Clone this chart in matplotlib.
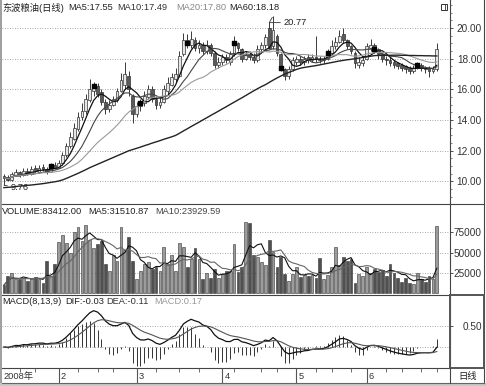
import numpy as np
import pandas as pd
import matplotlib
matplotlib.use('Agg')
import matplotlib.pyplot as plt
from matplotlib.patches import Rectangle
from matplotlib.lines import Line2D

plt.rcParams['font.family'] = ['Liberation Sans', 'Noto Sans CJK SC', 'DejaVu Sans']

# ---------------- data ----------------
close = [
    10.25, 10.10, 10.50, 10.60, 10.40, 10.70, 10.50, 10.80, 10.70, 10.90,
    10.80, 10.60, 11.00, 10.90, 11.20, 11.70, 12.30, 12.90, 13.50, 14.20,
    14.60, 15.40, 16.00, 16.20, 15.70, 15.20, 14.70, 15.00, 15.40, 15.90,
    16.60, 17.00, 16.00, 14.40, 14.90, 15.10, 15.60, 16.00, 15.40, 15.00,
    15.20, 16.00, 16.40, 16.80, 17.00, 18.20, 19.20, 19.00, 19.30, 18.70,
    18.90, 18.50, 18.90, 18.40, 17.60, 17.80, 18.10, 17.90, 18.30, 19.00,
    18.70, 18.00, 18.30, 18.10, 17.90, 18.60, 18.90, 19.40, 18.70, 19.90,
    18.40, 17.40, 16.90, 17.30, 17.90, 18.00, 17.80, 18.00, 17.90, 18.10,
    18.00, 17.90, 18.00, 18.40, 18.80, 19.10, 19.50, 19.20, 18.80, 18.50,
    17.70, 17.80, 17.90, 18.80, 18.90, 18.60, 18.30, 18.00, 17.90, 17.70,
    17.60, 17.50, 17.40, 17.30, 17.20, 17.40, 17.60, 17.40, 17.30, 17.20,
    17.30, 18.65]
open_ = [
    10.35, 10.30, 10.10, 10.45, 10.60, 10.40, 10.70, 10.50, 10.85, 10.65,
    10.95, 10.80, 10.65, 11.05, 10.90, 11.20, 11.70, 12.30, 12.80, 13.40,
    14.20, 14.60, 15.30, 15.90, 16.20, 15.80, 15.20, 14.70, 15.00, 15.30,
    15.90, 16.30, 16.90, 15.60, 14.40, 14.90, 15.10, 15.50, 16.00, 15.40,
    15.00, 15.20, 15.90, 16.30, 16.70, 16.90, 18.30, 19.20, 18.90, 19.20,
    18.70, 18.90, 18.50, 18.90, 18.40, 17.60, 17.80, 18.10, 17.80, 18.30,
    19.00, 18.60, 18.00, 18.30, 18.10, 17.90, 18.60, 18.90, 20.00, 18.80,
    19.50, 18.30, 17.30, 16.90, 17.30, 17.80, 18.00, 17.80, 18.10, 17.90,
    18.10, 18.00, 17.90, 18.00, 18.40, 18.80, 19.10, 19.60, 19.20, 18.80,
    18.40, 17.60, 17.70, 18.00, 18.70, 18.90, 18.60, 18.30, 18.00, 17.90,
    17.80, 17.70, 17.60, 17.50, 17.40, 17.20, 17.40, 17.60, 17.40, 17.40,
    17.20, 17.30]
high = [
    10.50, 10.40, 10.65, 10.80, 10.70, 10.85, 10.90, 11.00, 11.05, 11.10,
    11.15, 10.95, 11.20, 11.25, 11.40, 11.90, 12.50, 13.20, 13.80, 14.50,
    15.10, 15.70, 16.70, 16.50, 16.40, 16.00, 15.40, 15.30, 15.60, 16.10,
    17.10, 17.80, 17.20, 15.70, 15.20, 15.40, 15.90, 16.30, 16.20, 15.60,
    15.50, 16.30, 16.80, 17.10, 17.40, 18.50, 19.70, 19.60, 19.80, 19.40,
    19.20, 19.10, 19.20, 19.00, 18.50, 18.10, 18.30, 18.30, 18.50, 19.50,
    19.10, 18.70, 18.50, 18.50, 18.40, 18.90, 19.10, 19.60, 20.40, 20.77,
    19.60, 18.40, 17.40, 17.50, 18.10, 18.20, 18.20, 18.20, 18.30, 18.30,
    19.50, 18.20, 18.20, 18.60, 19.20, 19.40, 19.90, 20.00, 19.30, 18.90,
    18.50, 18.10, 18.20, 19.00, 19.30, 19.00, 18.70, 18.40, 18.20, 18.10,
    17.90, 17.80, 17.70, 17.60, 17.50, 17.60, 17.80, 17.70, 17.50, 17.50,
    17.50, 19.00]
low = [
    9.76, 10.00, 10.00, 10.35, 10.30, 10.35, 10.40, 10.45, 10.60, 10.55,
    10.70, 10.50, 10.60, 10.80, 10.85, 11.10, 11.60, 12.20, 12.70, 13.30,
    14.00, 14.40, 15.20, 15.60, 15.50, 15.00, 14.40, 14.50, 14.90, 15.20,
    15.80, 16.00, 15.60, 13.80, 14.20, 14.60, 14.90, 15.40, 15.20, 14.70,
    14.80, 15.10, 15.70, 16.20, 16.50, 16.80, 18.20, 18.70, 18.70, 18.50,
    18.40, 18.30, 18.30, 18.20, 17.40, 17.40, 17.60, 17.70, 17.60, 18.20,
    18.50, 17.80, 17.90, 17.90, 17.70, 17.80, 18.40, 18.70, 18.60, 18.60,
    18.20, 17.20, 16.60, 16.70, 17.20, 17.60, 17.60, 17.60, 17.70, 17.80,
    17.80, 17.70, 17.70, 17.90, 18.30, 18.60, 19.00, 19.00, 18.60, 18.30,
    17.40, 17.40, 17.50, 17.90, 18.50, 18.40, 18.00, 17.80, 17.60, 17.50,
    17.40, 17.30, 17.20, 17.10, 17.00, 17.10, 17.30, 17.20, 17.10, 16.80,
    17.10, 17.20]
volume = [
    9600, 21000, 25000, 17000, 17000, 19000, 15000, 19000, 20000, 17500,
    12600, 39000, 21000, 36000, 63000, 71500, 62000, 49000, 76000, 81000,
    64000, 84000, 66000, 56000, 60000, 64000, 36000, 27500, 47000, 40000,
    82000, 53000, 69000, 39000, 17700, 27500, 36000, 38000, 30000, 32000,
    27500, 57000, 36000, 47000, 27500, 62000, 57000, 32000, 41700, 56000,
    42000, 17000, 25000, 19000, 30000, 19000, 23000,
    27500, 27500, 61000, 26000, 32000, 88000, 86000, 47000, 45000, 38000,
    35000, 66000, 51000, 32000, 45000, 23000, 14700, 23000, 32000, 20000,
    22000, 21000, 22000, 19000, 43000, 17700, 22000, 32000, 56600, 35000,
    45000, 40000, 42000, 12000, 23000, 21000, 32000, 25000, 30000, 26000,
    28000, 21000, 36000, 25000, 19000, 14000, 19000, 12000, 11000, 25000,
    17000, 14000, 21000, 17700, 83412]
ma60 = [
    9.60, 9.62, 9.64, 9.67, 9.70, 9.72, 9.75, 9.77, 9.80, 9.83, 9.86, 9.90, 9.94, 9.98, 10.03,
    10.10, 10.20, 10.31, 10.42, 10.53, 10.65, 10.77, 10.90,
    11.01, 11.12, 11.23, 11.34, 11.45, 11.56, 11.67, 11.78, 11.89, 12.00,
    12.08, 12.16, 12.24, 12.33, 12.41, 12.50, 12.58, 12.66, 12.75, 12.83, 12.91, 13.00,
    13.14, 13.29, 13.43, 13.58, 13.72, 13.86, 14.01, 14.15, 14.30, 14.44, 14.58, 14.73,
    14.87, 15.02, 15.16, 15.31, 15.45,
    15.60, 15.75, 15.90, 16.04, 16.18, 16.30,
    16.45, 16.60, 16.74, 16.87, 17.00,
    17.10, 17.20, 17.30, 17.38,
    17.43, 17.47, 17.51, 17.55, 17.60,
    17.65, 17.70, 17.75, 17.80, 17.85,
    17.89, 17.93, 17.96, 18.00,
    18.04, 18.08, 18.12, 18.16, 18.20,
    18.21, 18.22, 18.22, 18.22, 18.23, 18.23, 18.22, 18.22, 18.21, 18.21, 18.20, 18.20,
    18.19, 18.19, 18.18, 18.18]
signal_idx = [12, 23, 35, 47, 59, 71, 83, 95, 106]
month_start = [14, 34, 56, 75, 93]
month_labels = ['2', '3', '4', '5', '6']
year_label = '2008年'
week_ticks = [4, 8, 19, 24, 28, 39, 45, 50, 59, 66, 70, 80, 84, 89, 98, 102, 107, 111]
price_ticks = [10, 12, 14, 16, 18, 20]
vol_ticks = [25000, 50000, 75000]
macd_ticks = [0.5]

title_parts = [('东波粮油(日线)', 2, '#222'), ('MA5:17.55', 68, '#222'),
               ('MA10:17.49', 117, '#333'), ('MA20:17.80', 176, '#888'),
               ('MA60:18.18', 229, '#222')]
vol_parts = [('VOLUME:83412.00', 2, '#222'), ('MA5:31510.87', 88, '#222'),
             ('MA10:23929.59', 155, '#444')]
macd_parts = [('MACD(8,13,9)', 2, '#222'), ('DIF:-0.03', 65, '#222'),
              ('DEA:-0.11', 106, '#333'), ('MACD:0.17', 154, '#999')]

# ---------------- figure ----------------
W, H = 486, 386
fig = plt.figure(figsize=(W / 100, H / 100), dpi=100)
fig.patch.set_facecolor('white')


def axrect(x0, y0, x1, y1):
    return [x0 / W, 1 - y1 / H, (x1 - x0) / W, (y1 - y0) / H]


def px(x, y):
    return x / W, 1 - y / H


ax_p = fig.add_axes(axrect(2, 0, 450, 204))
ax_v = fig.add_axes(axrect(2, 204, 450, 295))
ax_m = fig.add_axes(axrect(2, 295, 450, 368))
ax_d = fig.add_axes(axrect(2, 368, 450, 383))

n = len(close)
x = np.arange(n)
c = np.array(close); o = np.array(open_); h = np.array(high); l = np.array(low)
up = c >= o
s = pd.Series(c)
XL, XR = -0.49, 114.38

grid_kw = dict(color='#8a8a8a', linestyle=(0, (1, 2)), linewidth=0.6)
FS = 6.7
TFS = 7.2


def style_axis(ax, ticks, fmt, labelpad_px=32):
    ax.set_xlim(XL, XR)
    ax.set_xticks([])
    ax.yaxis.tick_right()
    ax.set_yticks(ticks)
    ax.set_yticklabels([fmt(t) for t in ticks])
    ax.tick_params(axis='y', which='major', length=2.2, width=0.6, colors='#333',
                   labelsize=TFS, pad=labelpad_px / 1.389 - 2.2, direction='out')
    for t in ax.get_yticklabels():
        t.set_ha('right')
    for sp in ['top', 'left']:
        ax.spines[sp].set_visible(False)
    for sp in ['right', 'bottom']:
        ax.spines[sp].set_color('#444')
        ax.spines[sp].set_linewidth(0.8)
    ax.grid(axis='y', **grid_kw)
    ax.set_axisbelow(True)
    ax.patch.set_alpha(0)


# ---- price panel ----
ax_p.vlines(x, l, h, color='#3a3a3a', lw=0.7, zorder=2)
for i in range(n):
    b = min(o[i], c[i])
    hh = max(abs(c[i] - o[i]), 0.04)
    ax_p.add_patch(Rectangle((i - 0.36, b), 0.72, hh,
                             facecolor='#e6e6e6' if up[i] else '#5a5a5a',
                             edgecolor='#333333', lw=0.5, zorder=3))
ma5 = s.rolling(5, min_periods=1).mean()
ma10 = s.rolling(10, min_periods=1).mean()
ma20 = s.rolling(20, min_periods=1).mean()
ax_p.plot(x, ma5, color='#111111', lw=0.9, zorder=4)
ax_p.plot(x, ma10, color='#444444', lw=0.8, zorder=4)
ax_p.plot(x, ma20, color='#9a9a9a', lw=0.8, zorder=4)
ax_p.plot(x, ma60, color='#222222', lw=1.0, zorder=4)
ax_p.scatter(signal_idx, c[signal_idx], marker='s', s=7, color='black', zorder=5)
ax_p.set_ylim(8.534, 21.824)
style_axis(ax_p, price_ticks, lambda t: f'{t:.2f}')
ax_p.set_yticks(np.arange(9, 21.6, 0.5), minor=True)
ax_p.tick_params(axis='y', which='minor', length=1.6, width=0.5, colors='#555')

ih = int(np.argmax(h))
ax_p.annotate(f'{h[ih]:.2f}', xy=(ih, h[ih]), xytext=(ih + 2.6, h[ih] - 0.42),
              fontsize=FS, color='#222', va='center', ha='left',
              arrowprops=dict(arrowstyle='-', color='#333', lw=0.6,
                              connectionstyle='angle,angleA=0,angleB=60,rad=0', shrinkA=0, shrinkB=1))
il = int(np.argmin(l))
ax_p.annotate(f'{l[il]:.2f}'.rstrip('0') if False else f'{l[il]:.2f}', xy=(il, l[il]),
              xytext=(il + 1.6, l[il] - 0.18), fontsize=FS, color='#222', va='center', ha='left',
              arrowprops=dict(arrowstyle='-', color='#333', lw=0.6, shrinkA=0, shrinkB=0))

# ---- volume panel ----
ax_v.bar(x, volume, width=0.72, color=np.where(up, '#9c9c9c', '#505050'),
         edgecolor='#333333', linewidth=0.4, zorder=3)
vs = pd.Series(volume, dtype=float)
ax_v.plot(x, vs.rolling(5, min_periods=1).mean(), color='#111', lw=0.8, zorder=4)
ax_v.plot(x, vs.rolling(10, min_periods=1).mean(), color='#666', lw=0.8, zorder=4)
ax_v.set_ylim(-2500, 110000)
style_axis(ax_v, vol_ticks, lambda t: f'{t:d}')

# ---- MACD panel ----
ema8 = s.ewm(span=8, adjust=False).mean()
ema13 = s.ewm(span=13, adjust=False).mean()
dif = ema8 - ema13
dea = dif.ewm(span=9, adjust=False).mean()
hist = 2 * (dif - dea)
ax_m.vlines(x, 0, hist, color='#333', lw=0.7, zorder=3)
ax_m.plot(x, dif, color='#111', lw=0.9, zorder=4)
ax_m.plot(x, dea, color='#555', lw=0.8, zorder=4)
ax_m.axhline(0, **grid_kw)
ax_m.set_ylim(-0.5, 1.238)
style_axis(ax_m, macd_ticks, lambda t: f'{t:.2f}')

# ---- date row ----
ax_d.set_xlim(XL, XR)
ax_d.set_ylim(0, 1)
ax_d.axis('off')
ax_d.vlines(month_start, 0, 1, color='#555', lw=0.8)
ax_d.vlines(week_ticks, 0.75, 1, color='#555', lw=0.6)
for m, lab in zip(month_start, month_labels):
    ax_d.text(m + 0.5, 0.45, lab, fontsize=FS, color='#333', ha='left', va='center')
ax_d.text(0.0, 0.45, year_label, fontsize=FS, color='#333', ha='left', va='center')

# ---- texts ----
for txt, xx, col in title_parts:
    fig.text(*px(xx, 7.5), txt, fontsize=FS, color=col, ha='left', va='center')
for txt, xx, col in vol_parts:
    fig.text(*px(xx, 212), txt, fontsize=FS, color=col, ha='left', va='center')
for txt, xx, col in macd_parts:
    fig.text(*px(xx, 302), txt, fontsize=FS, color=col, ha='left', va='center')
fig.text(*px(468, 376), '日线', fontsize=FS, color='#222', ha='center', va='center')

# ---- frame lines ----
def fline(x0, y0, x1, y1, col='#444', lw=0.8):
    fig.add_artist(Line2D([x0 / W, x1 / W], [1 - y0 / H, 1 - y1 / H], color=col, lw=lw))

fig.add_artist(Rectangle(px(0, 386), 2 / W, 386 / H, transform=fig.transFigure,
                         facecolor='#a0a0a0', edgecolor='none'))
fig.add_artist(Rectangle(px(0, 386), 1, 3 / H, transform=fig.transFigure,
                         facecolor='#c8c8c8', edgecolor='none'))
fline(484, 0, 484, 383)
fline(450, 204, 484, 204)
fline(450, 295, 484, 295, '#555', 1.4)
fline(450, 368, 484, 368, '#555', 1.4)
fline(450, 295, 450, 368, '#555', 1.4)
fline(484, 295, 484, 368, '#555', 1.4)
fline(2, 383, 484, 383, '#666', 0.8)
fline(450, 368, 450, 383)
# small icon top-right
fig.add_artist(Rectangle(px(441, 9.5), 6 / W, 6 / H, transform=fig.transFigure,
                         facecolor='white', edgecolor='#333', lw=0.7))
fline(444.5, 3.5, 444.5, 9.5, '#333', 0.6)

fig.savefig('out.png', dpi=100)
